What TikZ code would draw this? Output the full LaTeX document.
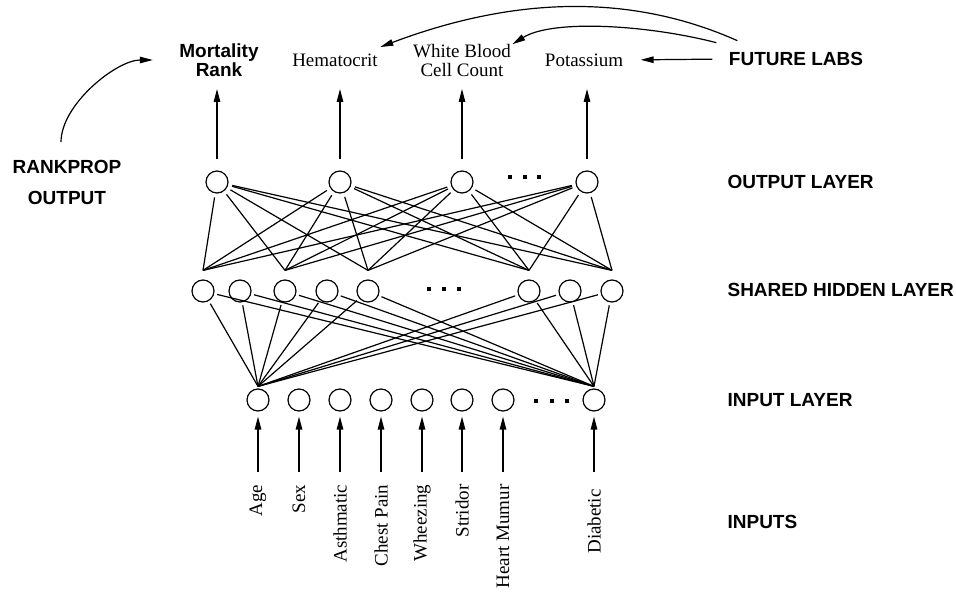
\documentclass[tikz,border=0pt]{standalone}
\usepackage{fontspec}
\setmainfont{Liberation Serif}
\setsansfont{Liberation Sans}
\usetikzlibrary{arrows.meta}
\def\yout{-182}
\def\yhid{-291}
\def\yin{-400}
\def\labx{727}

\begin{document}
\begin{tikzpicture}[
    x=1pt, y=1pt,
    line width=1.2pt,
    neuron/.style={
      draw, circle, minimum size=22pt, inner sep=0pt
    },
    arrowtip/.style={
      -{Triangle[length=13pt,width=6.5pt]}
    },
    plain/.style={
      font=\fontsize{19}{19}\selectfont, inner sep=0pt, align=center
    },
    heading/.style={
      font=\fontsize{19}{19}\selectfont\sffamily\bfseries, inner sep=0pt, align=center
    },
    layername/.style={
      heading, anchor=west
    }
  ]
    \useasboundingbox (0,0) rectangle (956,-593);

    \foreach \x [count=\i] in {217,340,462,587} {
      \node[neuron] (o\i) at (\x,\yout) {};
    }
    \foreach \x [count=\i] in {203,240,285,327,368,529,570,612} {
      \node[neuron] (h\i) at (\x,\yhid) {};
    }
    \def\inputs{
      258/Age, 299/Sex, 340/Asthmatic, 381/Chest Pain,
      422/Wheezing, 462/Stridor, 503/Heart Mumur, 594/Diabetic
    }
    \foreach \x / \name [count=\i] in \inputs {
      \node[neuron] (i\i) at (\x,\yin) {};
      \node[plain, rotate=90, anchor=east] (t\i) at (\x,-484) {\name};
      \draw[arrowtip, shorten <=12pt, shorten >=5pt] (t\i.east) -- (i\i.south);
    }

    \foreach \x / \y in {510/-177,525/-177,539/-177,429/-289,444/-289,459/-289,536/-401,552/-401,567/-401} {
      \fill (\x-2,\y-2) rectangle ++(4,4);
    }

    \foreach \i in {1,...,4} {
      \foreach \j in {1,3,5,6,8} {
        \draw[shorten <=4pt] (o\i) -- ([yshift=9pt]h\j.north);
      }
    }
    \foreach \j in {1,...,8} {
      \foreach \i in {1,8} {
        \draw[shorten <=3pt] (h\j) -- ([yshift=2pt]i\i.north);
      }
    }

    \node[heading] (mort) at (219,-60) {Mortality\\Rank};
    \node[plain] (hem) at (335,-60) {Hematocrit};
    \node[plain] (wbc) at (462,-61) {White Blood\\Cell Count};
    \node[plain] (pot) at (584,-60) {Potassium};
    \node[heading] (flabs) at (796,-59) {FUTURE LABS};
    \node[heading, font=\fontsize{19}{31}\selectfont\sffamily\bfseries] (rprop) at (67,-182) {RANKPROP\\OUTPUT};

    \coordinate (tipline) at (0,-89);
    \foreach \i in {1,...,4} {
      \draw[arrowtip, shorten <=11pt] (o\i.north) -- (o\i.north |- tipline);
    }

    \draw[arrowtip, shorten <=17pt, shorten >=26pt] ([xshift=-6pt]rprop.north) .. controls +(0,55) and +(-62,0) .. (mort.west);
    \draw[arrowtip, shorten <=16pt, shorten >=17pt] (flabs.west) -- (pot.east);
    \draw[arrowtip] ([shift={(-12pt,9pt)}]flabs.north west) .. controls +(-70,18) and +(40,25) .. ([xshift=1pt]wbc.north east);
    \draw[arrowtip] ([shift={(9pt,11pt)}]flabs.north west) .. controls +(-110,49) and +(130,49) .. ([shift={(2pt,6pt)}]hem.north east);

    \node[layername] (loutput) at (\labx,\yout) {OUTPUT LAYER};
    \node[layername] (lhidden) at (\labx,-290) {SHARED HIDDEN LAYER};
    \node[layername] (linput) at (\labx,\yin) {INPUT LAYER};
    \node[layername] (linputs) at (\labx,-522) {INPUTS};
  \end{tikzpicture}
\end{document}
